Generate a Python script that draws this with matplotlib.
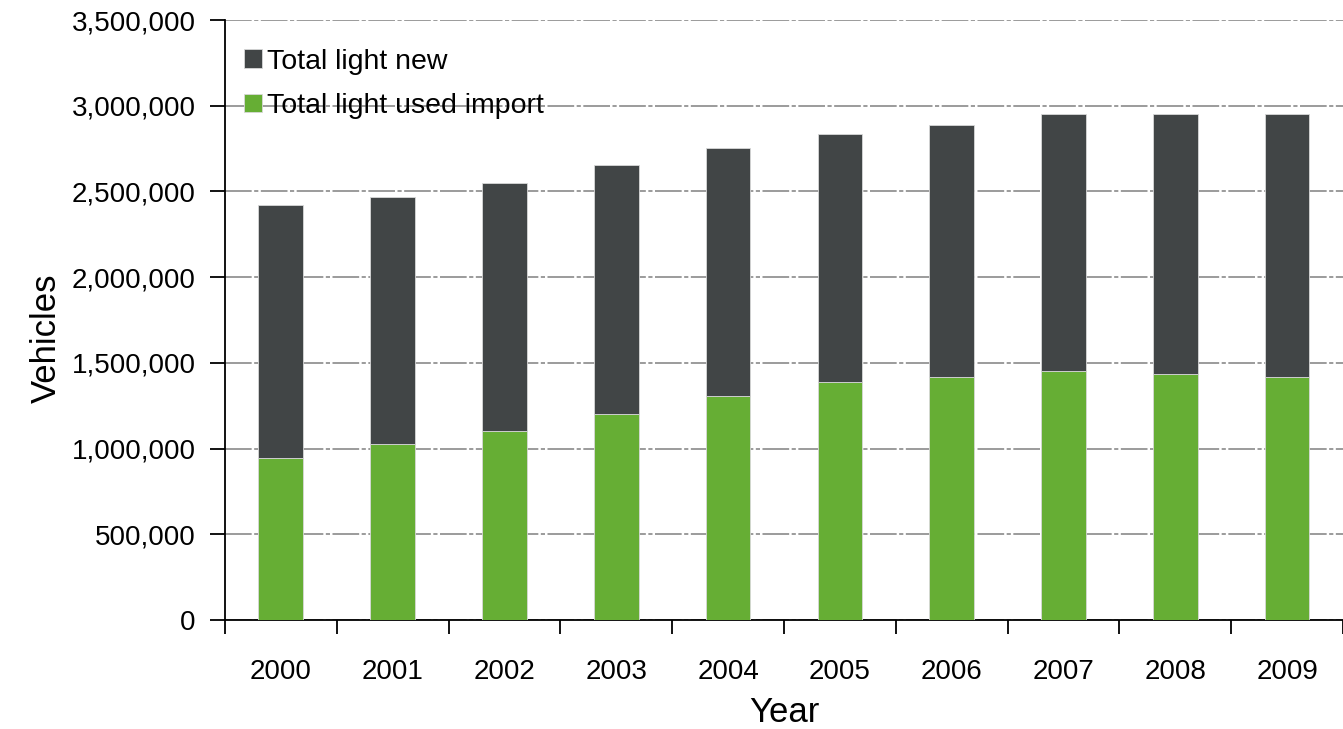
import numpy as np
import matplotlib
matplotlib.use("Agg")
import matplotlib.pyplot as plt
from matplotlib.ticker import FuncFormatter, MultipleLocator

plt.rcParams["font.family"] = ["Liberation Sans", "DejaVu Sans"]

# light vehicles entering the fleet per year
years = ["2000", "2001", "2002", "2003", "2004",
         "2005", "2006", "2007", "2008", "2009"]
used_import = [945000, 1027000, 1105000, 1203000, 1304000,
               1386000, 1417000, 1455000, 1435000, 1417000]
new_light = [1477000, 1442000, 1446000, 1452000, 1451000,
             1450000, 1470000, 1494000, 1514000, 1532000]

GREEN = "#66ae34"
DARK = "#414546"

fig = plt.figure(figsize=(13.43, 7.29), dpi=100)
ax = fig.add_axes([0.1675, 0.1495, 0.8325, 0.823])

x = np.arange(len(years))
ax.bar(x, used_import, width=0.4, color=GREEN, edgecolor="#d8d8d8",
       linewidth=0.6, label="Total light used import", zorder=3)
ax.bar(x, new_light, width=0.4, bottom=used_import, color=DARK,
       edgecolor="#d8d8d8", linewidth=0.6, label="Total light new", zorder=3)

ax.set_xlim(-0.5, len(years) - 0.5)
ax.set_ylim(0, 3500000)
ax.yaxis.set_major_locator(MultipleLocator(500000))
ax.yaxis.set_major_formatter(FuncFormatter(lambda v, p: f"{int(v):,}"))

# category labels at bar centres, tick marks between categories
ax.set_xticks(x)
ax.set_xticklabels(years)
ax.set_xticks(np.arange(-0.5, len(years)), minor=True)
ax.tick_params(axis="x", which="major", length=0, pad=28, labelsize=20)
ax.tick_params(axis="x", which="minor", direction="out", length=10, width=1.3)
ax.tick_params(axis="y", direction="out", length=11, width=1.3, labelsize=20, pad=10)

ax.grid(axis="y", color="#8a8a8a", linewidth=1.2,
        linestyle=(0, (16, 1.5, 2.5, 1.5)), zorder=0)

for side in ("top", "right"):
    ax.spines[side].set_visible(False)
for side in ("left", "bottom"):
    ax.spines[side].set_linewidth(1.3)

ax.set_xlabel("Year", fontsize=25, labelpad=8)
ax.set_ylabel("Vehicles", fontsize=25)
ax.yaxis.set_label_coords(-0.145, 0.47)

handles, labels = ax.get_legend_handles_labels()
ax.legend(handles[::-1], labels[::-1], loc="upper left", frameon=False,
          fontsize=20.5, handlelength=0.6, handleheight=0.6, handletextpad=0.2,
          labelspacing=0.65, bbox_to_anchor=(-0.008, 1.0), borderaxespad=0.6)

fig.savefig("out.png", dpi=100)
